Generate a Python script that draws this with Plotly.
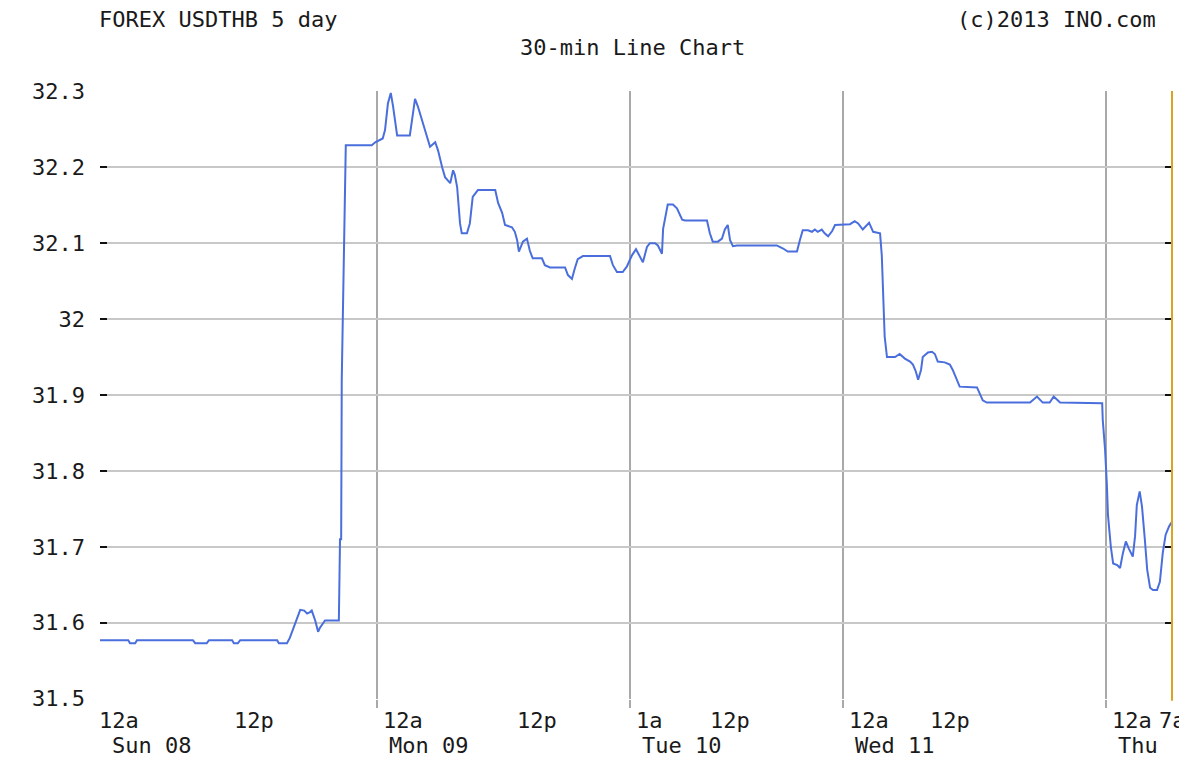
import plotly.graph_objects as go

# 30-minute bar index (0 = Sun 08 12a) and USD/THB close
bar_index = [0, 4.9, 5.2, 6.1, 6.4, 16.1, 16.5, 18.5, 18.9, 22.9, 23.2, 23.9, 24.3, 30.7, 31.0, 32.4,
             32.9, 33.4, 34.1, 34.7, 35.4, 35.9, 36.4, 36.7, 37.3, 37.8, 38.1, 38.5, 39.0, 41.2,
             41.4, 41.6, 41.8, 41.9, 42.3, 42.6, 47.1, 47.7, 49.0, 49.4, 49.9, 50.4, 50.8, 51.5,
             53.7, 54.1, 54.6, 55.1, 56.0, 56.7, 57.2, 58.1, 58.6, 59.3, 59.8, 60.7, 61.2, 61.5,
             61.9, 62.4, 62.7, 63.6, 64.1, 64.6, 65.5, 68.5, 69.0, 69.7, 70.2, 71.4, 71.9, 72.3,
             72.6, 73.3, 74.0, 74.5, 75.0, 76.6, 77.1, 78.0, 80.6, 81.1, 81.8, 82.3, 82.8, 83.7,
             88.4, 88.9, 89.6, 90.6, 91.3, 92.2, 92.9, 93.6, 94.1, 94.8, 95.3, 96.2, 96.7, 97.4,
             97.6, 98.1, 98.4, 99.3, 100.0, 100.9, 101.4, 105.2, 105.7, 106.2, 107.1, 107.8, 108.3,
             108.8, 109.2, 109.7, 110.4, 117.3, 118.4, 119.2, 120.8, 121.3, 121.8, 122.7, 123.4,
             123.9, 124.4, 125.1, 125.6, 126.2, 126.9, 127.4, 130.0, 130.8, 131.4, 132.2, 133.3,
             134.0, 135.2, 135.5, 135.7, 136.0, 136.4, 137.8, 138.6, 139.5, 140.4, 140.9, 141.4,
             141.8, 142.3, 142.6, 143.5, 144.2, 144.7, 145.2, 146.4, 147.3, 147.8, 148.5, 149.0,
             152.0, 152.5, 153.0, 153.7, 161.2, 162.4, 163.4, 164.6, 165.3, 166.4, 173.7, 173.8,
             174.2, 174.5, 174.7, 175.2, 175.6, 176.3, 176.8, 177.3, 177.8, 178.3, 179.0, 179.4,
             179.7, 180.2, 180.6, 181.1, 181.5, 182.0, 182.5, 183.2, 183.7, 184.2, 184.7, 185.3,
             185.8]
usdthb = [31.577, 31.577, 31.573, 31.573, 31.577, 31.577, 31.573, 31.573, 31.577, 31.577, 31.573,
          31.573, 31.577, 31.577, 31.573, 31.573, 31.580, 31.590, 31.605, 31.617, 31.616, 31.612,
          31.614, 31.616, 31.603, 31.588, 31.593, 31.598, 31.603, 31.603, 31.603, 31.710, 31.710,
          31.920, 32.120, 32.229, 32.229, 32.233, 32.238, 32.249, 32.284, 32.298, 32.280, 32.242,
          32.242, 32.266, 32.290, 32.280, 32.258, 32.240, 32.227, 32.233, 32.222, 32.200, 32.187,
          32.179, 32.196, 32.190, 32.174, 32.126, 32.113, 32.113, 32.126, 32.161, 32.170, 32.170,
          32.153, 32.140, 32.124, 32.121, 32.115, 32.104, 32.089, 32.102, 32.106, 32.090, 32.080,
          32.080, 32.071, 32.068, 32.068, 32.058, 32.053, 32.067, 32.079, 32.083, 32.083, 32.071,
          32.062, 32.062, 32.069, 32.084, 32.092, 32.082, 32.075, 32.095, 32.100, 32.100, 32.097,
          32.086, 32.119, 32.139, 32.151, 32.151, 32.146, 32.131, 32.130, 32.130, 32.113, 32.102,
          32.102, 32.106, 32.118, 32.124, 32.104, 32.096, 32.097, 32.097, 32.093, 32.089, 32.089,
          32.104, 32.117, 32.117, 32.115, 32.118, 32.115, 32.118, 32.113, 32.109, 32.116, 32.124,
          32.125, 32.129, 32.126, 32.118, 32.127, 32.115, 32.113, 32.084, 32.029, 31.977, 31.950,
          31.950, 31.954, 31.948, 31.944, 31.940, 31.931, 31.920, 31.933, 31.950, 31.956, 31.957,
          31.954, 31.944, 31.943, 31.940, 31.933, 31.920, 31.911, 31.910, 31.902, 31.893, 31.890,
          31.890, 31.898, 31.890, 31.890, 31.898, 31.890, 31.889, 31.867, 31.828, 31.784, 31.742,
          31.700, 31.678, 31.676, 31.672, 31.692, 31.707, 31.698, 31.687, 31.714, 31.755, 31.773,
          31.753, 31.709, 31.670, 31.646, 31.643, 31.643, 31.654, 31.692, 31.716, 31.727, 31.733]

y_ticks = [31.5, 31.6, 31.7, 31.8, 31.9, 32.0, 32.1, 32.2, 32.3]
y_tick_text = ["31.5", "31.6", "31.7", "31.8", "31.9", "32", "32.1", "32.2", "32.3"]

day_boundaries = [48, 91.9, 128.7, 174.4]
label_pos = [0, 22.2, 48, 71.3, 91.9, 104.6, 128.7, 142.9, 174.4, 182.5]
label_time = ["12a", "12p", "12a", "12p", "1a", "12p", "12a", "12p", "12a", "7a"]
label_day = ["Sun 08", "", "Mon 09", "", "Tue 10", "", "Wed 11", "", "Thu", ""]

FONT = "DejaVu Sans Mono"
TXT = "#1a1a1a"

fig = go.Figure()
fig.add_trace(go.Scatter(x=bar_index, y=usdthb, mode="lines",
                         line=dict(color="#4a6fdc", width=2), hoverinfo="skip"))

annotations = []
for i, (p, t, d) in enumerate(zip(label_pos, label_time, label_day)):
    annotations.append(dict(x=p, y=0, xref="x", yref="paper", text=t, showarrow=False,
                            xanchor="left", yanchor="middle", xshift=-3 if i == 0 else 4,
                            yshift=-21, font=dict(family=FONT, size=22, color=TXT)))
    if d:
        annotations.append(dict(x=p, y=0, xref="x", yref="paper", text=d, showarrow=False,
                                xanchor="left", yanchor="middle", xshift=10, yshift=-46,
                                font=dict(family=FONT, size=22, color=TXT)))

annotations += [
    dict(x=0, y=1, xref="paper", yref="paper", text="FOREX USDTHB 5 day", showarrow=False,
         xanchor="left", yanchor="middle", xshift=-3, yshift=72,
         font=dict(family=FONT, size=22, color=TXT)),
    dict(x=1, y=1, xref="paper", yref="paper", text="(c)2013 INO.com", showarrow=False,
         xanchor="right", yanchor="middle", xshift=-14, yshift=72,
         font=dict(family=FONT, size=22, color=TXT)),
    dict(x=0.4963, y=1, xref="paper", yref="paper", text="30-min Line Chart", showarrow=False,
         xanchor="center", yanchor="middle", yshift=44,
         font=dict(family=FONT, size=22, color=TXT)),
]

fig.update_layout(
    width=1179, height=757,
    margin=dict(l=92, r=15, t=83, b=66),
    paper_bgcolor="white", plot_bgcolor="white",
    showlegend=False,
    annotations=annotations,
    shapes=[dict(type="line", xref="paper", yref="paper", x0=1, x1=1, y0=-0.003, y1=1,
                 line=dict(color="#d9a520", width=2), layer="above")],
    xaxis=dict(range=[0, 185.8], tickvals=day_boundaries, showticklabels=False,
               showgrid=True, gridcolor="#a9a9a9", gridwidth=2, ticks="outside",
               ticklen=8, tickwidth=2, tickcolor="#a9a9a9", zeroline=False, showline=False),
    yaxis=dict(range=[31.4995, 32.3005], tickvals=y_ticks, ticktext=y_tick_text,
               showgrid=True, gridcolor="#c8c8c8", gridwidth=2, ticks="inside",
               ticklen=7, tickwidth=2, tickcolor="#111111", mirror="ticks",
               zeroline=False, showline=False, ticklabelstandoff=14,
               tickfont=dict(family=FONT, size=22, color=TXT)),
)

fig.write_html("out.html")
